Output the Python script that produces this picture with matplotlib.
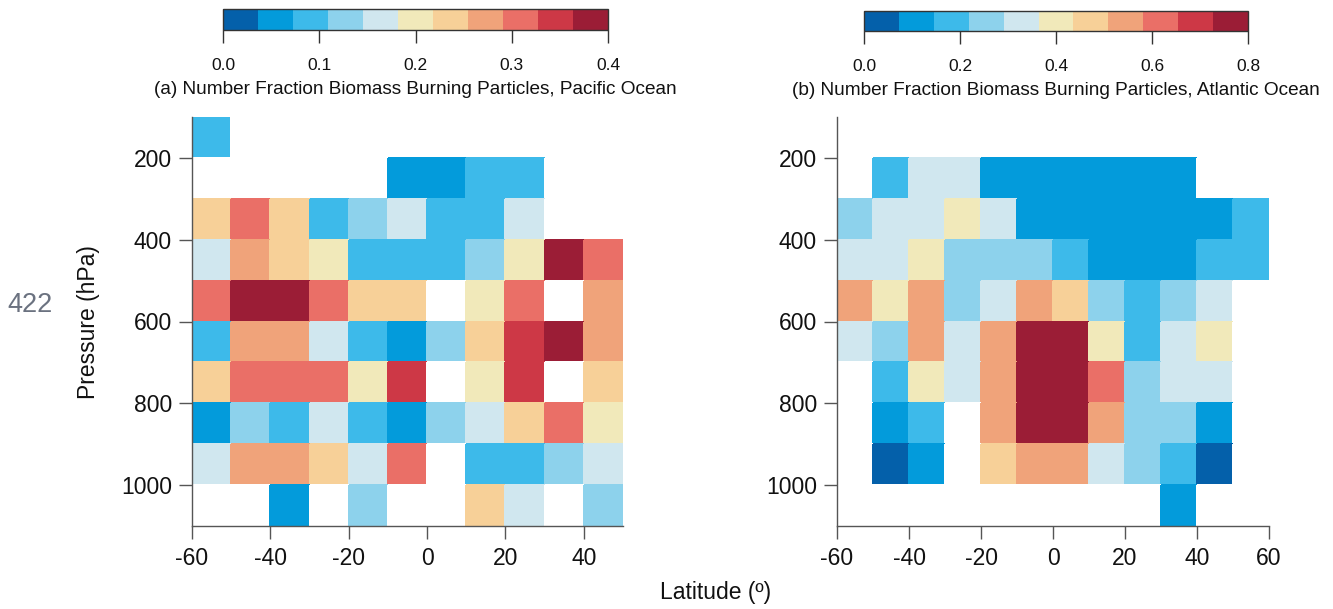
import numpy as np
import matplotlib
matplotlib.use("Agg")
import matplotlib.pyplot as plt
from matplotlib.colors import ListedColormap, BoundaryNorm

plt.rcParams['font.family'] = ['Liberation Sans', 'DejaVu Sans']
plt.rcParams['axes.unicode_minus'] = False

n = np.nan
# pressure bin edges (hPa) and latitude bin edges (deg)
pressure_edges = [100, 200, 300, 400, 500, 600, 700, 800, 900, 1000, 1100]
lat_edges_pac = [-60, -50, -40, -30, -20, -10, 0, 10, 20, 30, 40, 50]
lat_edges_atl = [-60, -50, -40, -30, -20, -10, 0, 10, 20, 30, 40, 50, 60]

# Pacific: number fraction (rows = pressure bins top->bottom, cols = latitude bins)
pacific = [
    [.09, n, n, n, n, n, n, n, n, n, n],
    [n, n, n, n, n, .055, .055, .09, .09, n, n],
    [.235, .31, .235, .09, .125, .165, .09, .09, .165, n, n],
    [.165, .27, .235, .20, .09, .09, .09, .125, .20, .38, .31],
    [.31, .38, .38, .31, .235, .235, n, .20, .31, n, .27],
    [.09, .27, .27, .165, .09, .055, .125, .235, .345, .38, .27],
    [.235, .31, .31, .31, .20, .345, n, .20, .345, n, .235],
    [.055, .125, .09, .165, .09, .055, .125, .165, .235, .31, .20],
    [.165, .27, .27, .235, .165, .31, n, .09, .09, .125, .165],
    [n, n, .055, n, .125, n, n, .235, .165, n, .125],
]

# Atlantic
atlantic = [
    [n, n, n, n, n, n, n, n, n, n, n, n],
    [n, .18, .33, .33, .11, .11, .11, .11, .11, .11, n, n],
    [.25, .33, .33, .40, .33, .11, .11, .11, .11, .11, .11, .18],
    [.33, .33, .40, .25, .25, .25, .18, .11, .11, .11, .18, .18],
    [.55, .40, .55, .25, .33, .55, .47, .25, .18, .25, .33, n],
    [.33, .25, .55, .33, .55, .76, .76, .40, .18, .33, .40, n],
    [n, .18, .40, .33, .55, .76, .76, .62, .25, .33, .33, n],
    [n, .11, .18, n, .55, .76, .76, .55, .25, .25, .11, n],
    [n, .04, .11, n, .47, .55, .55, .33, .25, .18, .04, n],
    [n, n, n, n, n, n, n, n, n, .11, n, n],
]

pac_ticks = [0.0, 0.1, 0.2, 0.3, 0.4]
atl_ticks = [0.0, 0.2, 0.4, 0.6, 0.8]
pac_title = "(a) Number Fraction Biomass Burning Particles, Pacific Ocean"
atl_title = "(b) Number Fraction Biomass Burning Particles, Atlantic Ocean"

colors = ["#0460AA", "#039BDB", "#3DBAEA", "#8DD2EC", "#D0E7EF", "#F1E9BA",
          "#F7D098", "#F0A37A", "#EA6F67", "#CD3846", "#9B1D36"]
cmap = ListedColormap(colors)
cmap.set_bad("white")

W, H = 1333, 609
fig = plt.figure(figsize=(W / 100, H / 100), dpi=100)

spine_c = "#555555"
text_c = "#111111"
tick_fs = 16.5


def px(x0, y0, x1, y1):
    return [x0 / W, 1 - y1 / H, (x1 - x0) / W, (y1 - y0) / H]


def panel(rect, cbrect, data, lat_edges, vmax, cticks, title, xticks):
    ax = fig.add_axes(px(*rect))
    bounds = np.linspace(0, vmax, len(colors) + 1)
    norm = BoundaryNorm(bounds, cmap.N)
    arr = np.ma.masked_invalid(np.array(data, dtype=float))
    mesh = ax.pcolormesh(lat_edges, pressure_edges, arr, cmap=cmap, norm=norm,
                         edgecolors='face', linewidth=0.3, antialiased=False)
    ax.set_xlim(lat_edges[0], lat_edges[-1])
    ax.set_ylim(1100, 100)
    ax.set_yticks([200, 400, 600, 800, 1000])
    ax.set_xticks(xticks)
    ax.set_xticklabels([str(t) for t in xticks])
    for s in ['top', 'right']:
        ax.spines[s].set_visible(False)
    for s in ['left', 'bottom']:
        ax.spines[s].set_color(spine_c)
        ax.spines[s].set_linewidth(1.0)
    ax.tick_params(direction='out', length=9.4, width=1.0, color=spine_c,
                   labelsize=tick_fs, labelcolor=text_c)
    ax.tick_params(axis='x', pad=6)
    ax.tick_params(axis='y', pad=5)
    cax = fig.add_axes(px(*cbrect))
    cb = fig.colorbar(mesh, cax=cax, orientation='horizontal', ticks=cticks)
    cb.minorticks_off()
    cb.ax.set_xticklabels([f"{t:.1f}" for t in cticks])
    cb.outline.set_edgecolor('#333333')
    cb.outline.set_linewidth(1.0)
    cb.ax.tick_params(direction='out', length=9.4, width=1.0, color='#333333',
                      labelsize=12.5, pad=10.5, labelcolor=text_c)
    cb.set_label(title, fontsize=13.7, labelpad=6, color=text_c)
    return ax


ax1 = panel((192, 117, 623, 526), (223, 9, 608, 30), pacific, lat_edges_pac,
            0.4, pac_ticks, pac_title, [-60, -40, -20, 0, 20, 40])
ax2 = panel((837, 117, 1269, 526), (864, 11, 1248, 31), atlantic, lat_edges_atl,
            0.8, atl_ticks, atl_title, [-60, -40, -20, 0, 20, 40, 60])

fig.text(88 / W, 1 - 322 / H, "Pressure (hPa)", fontsize=tick_fs, rotation=90,
         ha='center', va='center', color=text_c)
fig.text(716 / W, 1 - 592 / H, "Latitude (º)", fontsize=tick_fs, ha='center',
         va='center', color=text_c)
fig.text(30 / W, 1 - 305 / H, "422", fontsize=19.5, ha='center', va='center',
         color='#6b7280')

fig.savefig("out.png", dpi=100)
